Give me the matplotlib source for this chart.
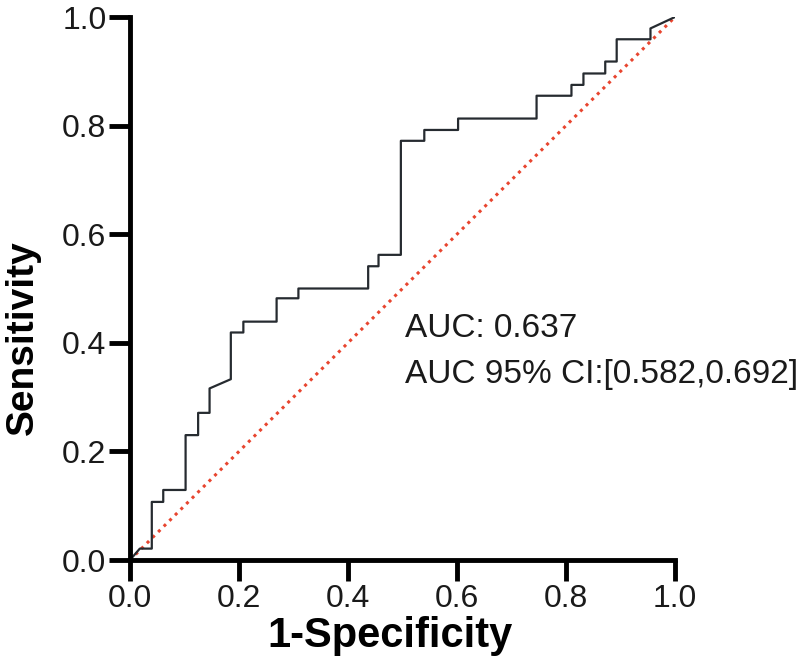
import matplotlib
matplotlib.use('Agg')
import matplotlib.pyplot as plt

# ROC curve vertices
fpr = [0.0, 0.018, 0.040, 0.040, 0.061, 0.061, 0.102, 0.102, 0.125, 0.125,
       0.146, 0.146, 0.185, 0.185, 0.208, 0.208, 0.269, 0.269, 0.309, 0.309,
       0.437, 0.437, 0.456, 0.456, 0.497, 0.497, 0.540, 0.540, 0.602, 0.602,
       0.746, 0.746, 0.810, 0.810, 0.832, 0.832, 0.872, 0.872, 0.893, 0.893,
       0.955, 0.955, 1.0]
tpr = [0.0, 0.021, 0.021, 0.107, 0.107, 0.129, 0.129, 0.230, 0.230, 0.271,
       0.271, 0.316, 0.333, 0.419, 0.419, 0.439, 0.439, 0.482, 0.482, 0.500,
       0.500, 0.541, 0.541, 0.562, 0.562, 0.772, 0.772, 0.792, 0.792, 0.813,
       0.813, 0.855, 0.855, 0.875, 0.875, 0.896, 0.896, 0.918, 0.918, 0.959,
       0.959, 0.979, 1.0]

ticks = [0.0, 0.2, 0.4, 0.6, 0.8, 1.0]
tick_labels = ['0.0', '0.2', '0.4', '0.6', '0.8', '1.0']
auc_text = 'AUC: 0.637'
ci_text = 'AUC 95% CI:[0.582,0.692]'

plt.rcParams['font.family'] = ['Liberation Sans', 'DejaVu Sans']

fig = plt.figure(figsize=(8, 6.67), dpi=100)
ax = fig.add_axes([0.1625, 0.1604, 0.68125, 0.8141])

ax.plot([0, 1], [0, 1], color='#e8452f', linestyle=(0, (1, 1.6)), linewidth=2.2)
ax.plot(fpr, tpr, color='#262b30', linewidth=1.6)

ax.set_xlim(0, 1)
ax.set_ylim(0, 1)
ax.set_xticks(ticks)
ax.set_xticklabels(tick_labels)
ax.set_yticks(ticks)
ax.set_yticklabels(tick_labels)

for s in ['top', 'right']:
    ax.spines[s].set_visible(False)
for s in ['left', 'bottom']:
    ax.spines[s].set_linewidth(3.5)
ax.tick_params(width=3.5, length=15, labelsize=23, pad=2, labelcolor='#1a1a1a')

ax.set_xlabel('1-Specificity', fontsize=30, fontweight='bold')
ax.set_ylabel('Sensitivity', fontsize=28, fontweight='bold')
ax.xaxis.set_label_coords(0.477, -0.103)
ax.yaxis.set_label_coords(-0.163, 0.41)

ax.text(0.505, 0.427, auc_text, fontsize=24, va='center', color='#1a1a1a')
ax.text(0.505, 0.341, ci_text, fontsize=24, va='center', color='#1a1a1a', clip_on=False)

fig.savefig('out.png', dpi=100)
